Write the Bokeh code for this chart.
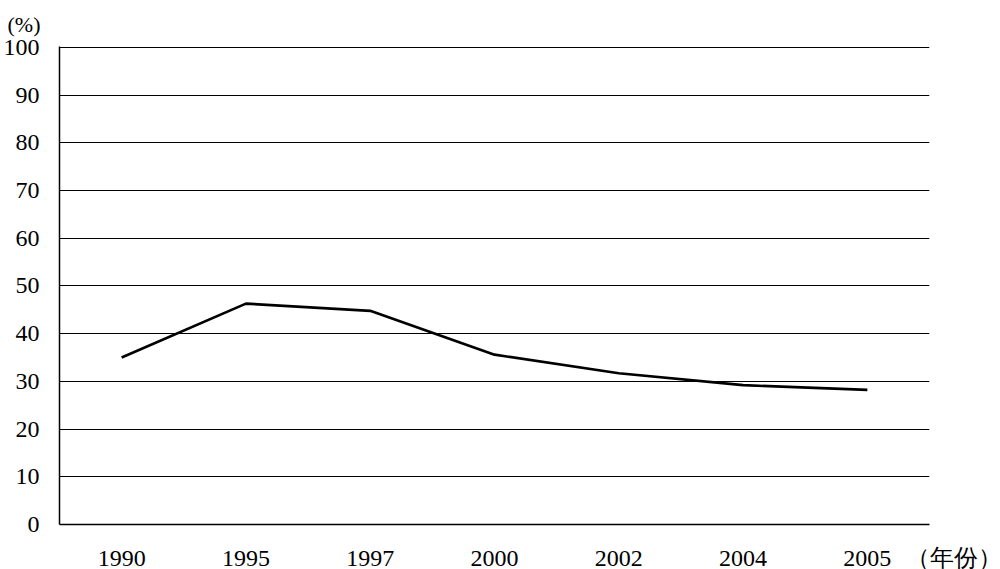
from bokeh.plotting import figure
from bokeh.models import Range1d, FixedTicker, Title
from bokeh.embed import file_html
from bokeh.resources import INLINE

years = ["1990", "1995", "1997", "2000", "2002", "2004", "2005"]
share = [35.0, 46.3, 44.8, 35.6, 31.7, 29.2, 28.2]
y_ticks = [0, 10, 20, 30, 40, 50, 60, 70, 80, 90, 100]
y_unit = "(%)"
x_unit = "（年份）"

FONT = "Liberation Serif"

# each category occupies a band of width 2; category i is centred at 2*i+1
n = len(years)
xpos = [2 * i + 1 for i in range(n)]

p = figure(frame_width=870, frame_height=478, x_range=Range1d(0, 2 * n),
           y_range=Range1d(0, 100.2), output_backend="svg", toolbar_location=None,
           min_border_left=50, min_border_right=72, min_border_top=45, min_border_bottom=40)
p.outline_line_color = None
p.background_fill_color = "white"
p.border_fill_color = "white"

p.line(xpos, share, line_color="black", line_width=2.7)

overrides = {x: y for x, y in zip(xpos, years)}
overrides[2 * n] = "\u00a0" * 15 + x_unit
p.xaxis.ticker = FixedTicker(ticks=xpos + [2 * n])
p.xaxis.major_label_overrides = overrides

p.yaxis.ticker = FixedTicker(ticks=y_ticks)
p.ygrid.ticker = FixedTicker(ticks=y_ticks)
p.ygrid.grid_line_color = "black"
p.ygrid.grid_line_width = 1.2
p.ygrid.grid_line_alpha = 1
p.xgrid.grid_line_color = None

for ax in (p.xaxis[0], p.yaxis[0]):
    ax.axis_line_color = "black"
    ax.axis_line_width = 1.5
    ax.major_tick_line_color = None
    ax.minor_tick_line_color = None
    ax.major_tick_out = 0
    ax.major_tick_in = 0
    ax.major_label_text_font = FONT
    ax.major_label_text_font_size = "24px"
    ax.major_label_text_color = "black"
p.yaxis.major_label_standoff = 20
p.xaxis.major_label_standoff = 20

p.title = Title(text=y_unit, align="left", offset=-52, text_font=FONT,
                text_font_size="22px", text_font_style="normal", text_color="black",
                standoff=19)

open("out.html", "w").write(file_html(p, INLINE))
